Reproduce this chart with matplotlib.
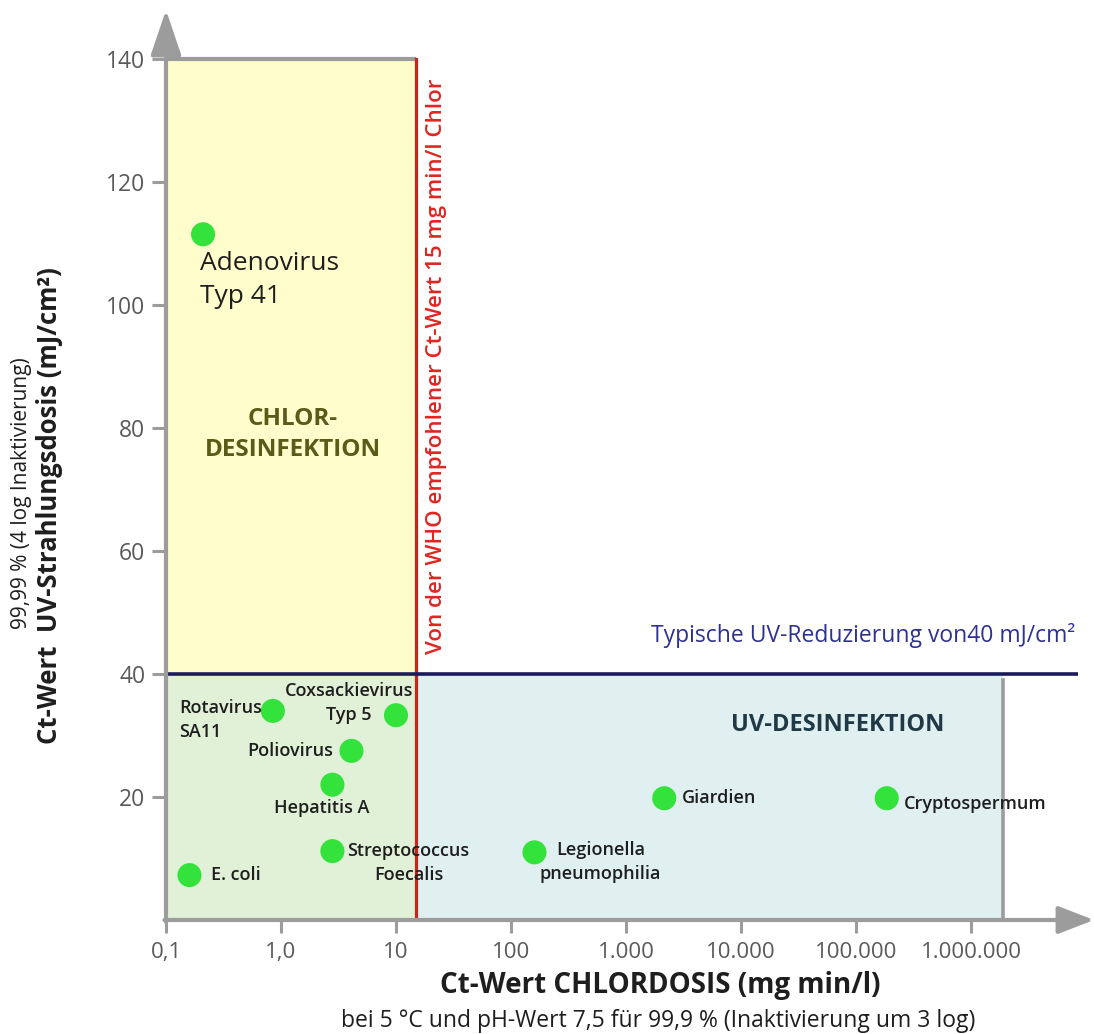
import matplotlib
matplotlib.use("Agg")
import matplotlib.pyplot as plt
import numpy as np

plt.rcParams["font.family"] = ["Open Sans", "DejaVu Sans"]

# Ct-Wert Chlor (mg min/l, log) vs. UV-Dosis (mJ/cm2) per organism
ORGANISMS = ["Adenovirus\nTyp 41", "Rotavirus\nSA11", "Coxsackievirus\nTyp 5",
             "Poliovirus", "Hepatitis A", "Streptococcus\nFoecalis", "E. coli",
             "Legionella\npneumophilia", "Giardien", "Cryptospermum"]
CT_CHLOR = [0.21, 0.85, 10, 4.1, 2.8, 2.8, 0.16, 160, 2150, 1.85e5]
UV_DOSE = [111.5, 34, 33.3, 27.5, 22, 11.2, 7.3, 11, 19.8, 19.8]

X_TICKS = [0.1, 1, 10, 100, 1e3, 1e4, 1e5, 1e6]
X_TICKLABELS = ["0,1", "1,0", "10", "100", "1.000", "10.000", "100.000", "1.000.000"]
Y_TICKS = [20, 40, 60, 80, 100, 120, 140]

WHO_CT = 15          # WHO recommended Ct value
UV_TYPICAL = 40      # typical UV dose
Y_TOP_BOX = 140
UV_BOX_RIGHT = 1.9e6
UV_LINE_RIGHT = 8.5e6

# label layout: offset in pixels from the point, horizontal alignment, size, weight
LAB = 13
LAYOUT = {
    "Adenovirus\nTyp 41": (-3, -46, "left", 19, "normal"),
    "Rotavirus\nSA11": (-11, -9, "right", LAB, "semibold"),
    "Coxsackievirus\nTyp 5": (-47, 12, "center", LAB, "semibold"),
    "Poliovirus": (-18, 0, "right", LAB, "semibold"),
    "Hepatitis A": (-11, -23, "center", LAB, "semibold"),
    "Streptococcus\nFoecalis": (76, -12, "center", LAB, "semibold"),
    "E. coli": (22, 0, "left", LAB, "semibold"),
    "Legionella\npneumophilia": (66, -10, "center", LAB, "semibold"),
    "Giardien": (18, 0, "left", LAB, "semibold"),
    "Cryptospermum": (17, -6, "left", LAB, "semibold"),
}

GRAY = "#9c9c9c"; TICK_TXT = "#5a5a5a"; INK = "#1e1e1e"
YELLOW = "#fffdcb"; GREEN_BG = "#e1f1d7"; BLUE_BG = "#e0eff0"
RED_LINE = "#c0281e"; RED_TXT = "#e3241f"; NAVY = "#1b1b5c"; NAVY_TXT = "#2e3190"
DOT = "#33e23a"; OLIVE = "#5b5a18"; TEAL = "#1f3a46"

W, H = 1094, 1034
PX_DEC = 115.0       # pixels per decade
PX_UNIT = 6.15       # pixels per mJ/cm2

fig = plt.figure(figsize=(W / 100, H / 100), dpi=100)
ax = fig.add_axes([166 / W, 1 - 920 / H, (W - 166) / W, (920 - 10) / H])
ax.set_xscale("log")
xmax = 0.1 * 10 ** ((W - 166) / PX_DEC)
ymax = (920 - 10) / PX_UNIT
ax.set_xlim(0.1, xmax)
ax.set_ylim(0, ymax)
for s in ax.spines.values():
    s.set_visible(False)

# regions
ax.fill_between([0.1, WHO_CT], UV_TYPICAL, Y_TOP_BOX, color=YELLOW, lw=0, zorder=1)
ax.fill_between([0.1, WHO_CT], 0, UV_TYPICAL, color=GREEN_BG, lw=0, zorder=1)
ax.fill_between([WHO_CT, UV_BOX_RIGHT], 0, UV_TYPICAL, color=BLUE_BG, lw=0, zorder=1)
ax.plot([0.1, WHO_CT], [Y_TOP_BOX, Y_TOP_BOX], color=GRAY, lw=3, zorder=2,
        solid_capstyle="butt")
ax.plot([UV_BOX_RIGHT, UV_BOX_RIGHT], [0, UV_TYPICAL - 1], color=GRAY, lw=2.6,
        zorder=2)
ax.plot([WHO_CT, WHO_CT], [0, Y_TOP_BOX], color=RED_LINE, lw=2.3, zorder=3)
ax.plot([0.1, UV_LINE_RIGHT], [UV_TYPICAL, UV_TYPICAL], color=NAVY, lw=2.6,
        zorder=3, solid_capstyle="butt")

# axes with arrow heads
ax.annotate("", xy=(0.1, ymax), xytext=(0.1, -0.3), annotation_clip=False,
            arrowprops=dict(arrowstyle="-|>,head_length=28,head_width=9.5",
                            mutation_scale=1, lw=3, color=GRAY,
                            shrinkA=0, shrinkB=0), zorder=4)
ax.annotate("", xy=(xmax, 0), xytext=(0.097, 0), annotation_clip=False,
            arrowprops=dict(arrowstyle="-|>,head_length=22,head_width=8.5",
                            mutation_scale=1, lw=3, color=GRAY,
                            shrinkA=0, shrinkB=0), zorder=4)

ax.set_xticks(X_TICKS)
ax.set_xticklabels(X_TICKLABELS)
ax.xaxis.set_minor_locator(matplotlib.ticker.NullLocator())
ax.set_yticks(Y_TICKS)
ax.tick_params(axis="x", direction="out", length=9, width=2.2, color=GRAY,
               labelcolor=TICK_TXT, labelsize=16, pad=7)
ax.tick_params(axis="y", direction="out", length=10, width=2.2, color=GRAY,
               labelcolor=TICK_TXT, labelsize=16.5, pad=5)

# organisms
ax.scatter(CT_CHLOR, UV_DOSE, s=300, color=DOT, edgecolors="none", zorder=6)
for name, x, y in zip(ORGANISMS, CT_CHLOR, UV_DOSE):
    dx, dy, ha, fs, fw = LAYOUT[name]
    ax.annotate(name, (x, y), xytext=(dx, dy), textcoords="offset pixels",
                ha=ha, va="center", multialignment="left" if ha != "center" else "center",
                fontsize=fs, fontweight=fw, color=INK, zorder=7, linespacing=1.42)

# region names and reference lines
ax.text(1.27, 79, "CHLOR-\nDESINFEKTION", ha="center", va="center", fontsize=17.5,
        fontweight="bold", color=OLIVE, linespacing=1.4, zorder=5)
ax.text(7e4, 31.7, "UV-DESINFEKTION", ha="center", va="center", fontsize=17,
        fontweight="bold", color=TEAL, zorder=5)
ax.annotate("Typische UV-Reduzierung von40 mJ/cm²", (UV_LINE_RIGHT, UV_TYPICAL),
            xytext=(-3, 39), textcoords="offset pixels", ha="right", va="center",
            fontsize=16.5, color=NAVY_TXT, zorder=5)
ax.annotate("Von der WHO empfohlener Ct-Wert 15 mg min/l Chlor", (WHO_CT, 90),
            xytext=(20, 0), textcoords="offset pixels", ha="center", va="center",
            rotation=90, fontsize=16, fontweight="semibold", color=RED_TXT, zorder=5)

# axis titles
fig.text(660 / W, 1 - 986 / H, "Ct-Wert CHLORDOSIS (mg min/l)", ha="center",
         va="center", fontsize=20, fontweight="bold", color=INK)
fig.text(658 / W, 1 - 1021 / H,
         "bei 5 °C und pH-Wert 7,5 für 99,9 % (Inaktivierung um 3 log)",
         ha="center", va="center", fontsize=16.5, color=INK)
fig.text(50 / W, 1 - 506 / H, "Ct-Wert  UV-Strahlungsdosis (mJ/cm²)", ha="center",
         va="center", rotation=90, fontsize=18.5, fontweight="bold", color=INK)
fig.text(22 / W, 1 - 493 / H, "99,99 % (4 log Inaktivierung)", ha="center",
         va="center", rotation=90, fontsize=15, color=INK)

fig.savefig("out.png", dpi=100)
